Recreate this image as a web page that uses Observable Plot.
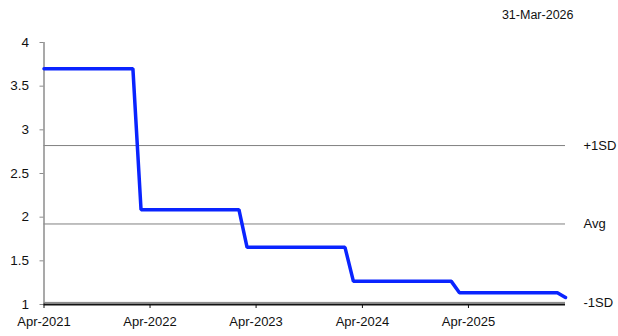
<!DOCTYPE html>
<html><head><meta charset="utf-8">
<script src="https://cdn.jsdelivr.net/npm/d3@7"></script>
<script src="https://cdn.jsdelivr.net/npm/@observablehq/plot@0.6"></script>
<style>
html,body{margin:0;padding:0;background:#fff;}
#chart svg{display:block;}
</style></head><body><div id="chart"></div>
<script>
const asOfLabel = "31-Mar-2026";
const startMonth = "2021-04-01";
const endMonth = "2026-03-01";
// monthly values, Apr-2021 .. Mar-2026
const values = [
  3.7, 3.7, 3.7, 3.7, 3.7, 3.7, 3.7, 3.7, 3.7, 3.7, 3.7,
  2.085, 2.085, 2.085, 2.085, 2.085, 2.085, 2.085, 2.085, 2.085, 2.085, 2.085, 2.085,
  1.655, 1.655, 1.655, 1.655, 1.655, 1.655, 1.655, 1.655, 1.655, 1.655, 1.655, 1.655,
  1.265, 1.265, 1.265, 1.265, 1.265, 1.265, 1.265, 1.265, 1.265, 1.265, 1.265, 1.265,
  1.135, 1.135, 1.135, 1.135, 1.135, 1.135, 1.135, 1.135, 1.135, 1.135, 1.135, 1.135,
  1.08
];
const bandLabels = ["+1SD", "Avg", "-1SD"];
const bandValues = [2.82, 1.922, 1.024];
const yTicks = [1, 1.5, 2, 2.5, 3, 3.5, 4];
const xTickDates = ["2021-04-01", "2022-04-01", "2023-04-01", "2024-04-01", "2025-04-01"];
const xTickLabels = ["Apr-2021", "Apr-2022", "Apr-2023", "Apr-2024", "Apr-2025"];

const months = d3.utcMonth.range(new Date(startMonth), d3.utcMonth.offset(new Date(endMonth), 1));
const data = months.map((d, i) => ({date: d, value: values[i]}));
const bands = bandLabels.map((l, i) => ({label: l, value: bandValues[i]}));
const xTicks = xTickDates.map(s => new Date(s));
const fmtX = d => xTickLabels[xTicks.findIndex(t => +t === +d)];

const font = '"Liberation Sans", Arial, sans-serif';
const chart = Plot.plot({
  width: 618, height: 336,
  marginLeft: 43.5, marginRight: 53, marginTop: 42, marginBottom: 32,
  style: {fontFamily: font, fontSize: "13px", color: "#000", background: "#fff", overflow: "visible"},
  x: {type: "utc", domain: [months[0], months[months.length - 1]]},
  y: {domain: [1, 4]},
  marks: [
    Plot.ruleY(bands, {y: "value", stroke: "#808080", strokeWidth: 1}),
    Plot.ruleX([months[0]], {stroke: "#8c8c8c", strokeWidth: 1.5}),
    Plot.axisY({ticks: yTicks, tickFormat: d => String(d), tickSize: 4, tickPadding: 11, stroke: "#8c8c8c", fill: "#111", label: null, fontSize: 13.5}),
    Plot.lineY(data, {x: "date", y: "value", stroke: "#0a24ff", strokeWidth: 3.5, strokeLinejoin: "miter", curve: "linear"}),
    Plot.ruleY([1], {stroke: "#111", strokeWidth: 2}),
    Plot.axisX({ticks: xTicks, tickFormat: fmtX, tickSize: 4, tickPadding: 8, stroke: "#111", fill: "#111", label: null, fontSize: 13}),
    Plot.text(bands, {y: "value", text: "label", frameAnchor: "right", textAnchor: "start", dx: 18, fill: "#111", fontSize: 13}),
    Plot.text([asOfLabel], {text: d => d, frameAnchor: "top-right", textAnchor: "end", lineAnchor: "middle", dx: 8, dy: -28, fill: "#111", fontSize: 12.5})
  ]
});
document.getElementById("chart").appendChild(chart);
</script>
</body></html>
